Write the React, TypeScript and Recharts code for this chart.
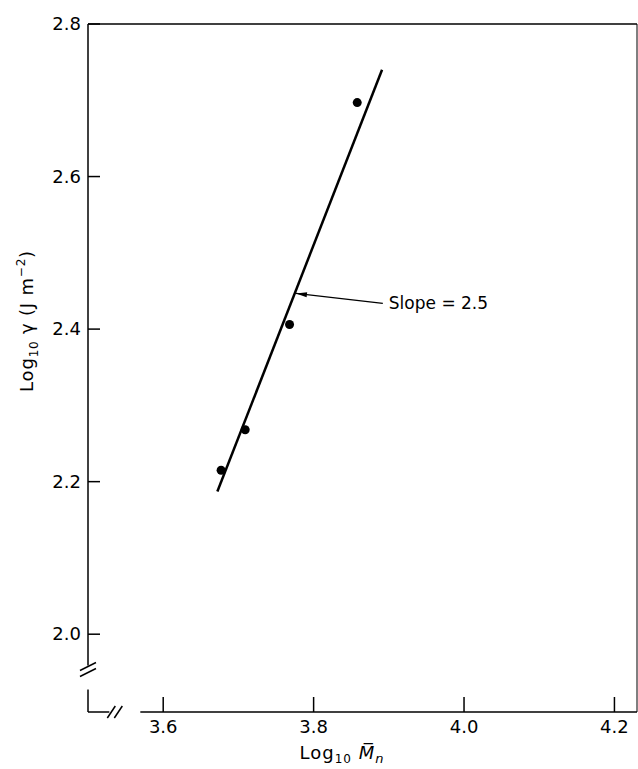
import {
  ComposedChart,
  Scatter,
  XAxis,
  YAxis,
  ReferenceLine,
  ReferenceDot,
} from 'recharts'

// measured points: log10 Mn vs log10 gamma
const logMn = [3.677, 3.709, 3.768, 3.858]
const logGamma = [2.215, 2.268, 2.406, 2.697]

// fitted line end points
const fitMn = [3.672, 3.891]
const fitGamma = [2.187, 2.74]

const xTicks = [3.6, 3.8, 4.0, 4.2]
const yTicks = [2.0, 2.2, 2.4, 2.6, 2.8]

const slopeText = 'Slope = 2.5'
const arrowTail = { x: 3.892, y: 2.4337 }
const arrowTip = { x: 3.7765, y: 2.4468 }

const xBreak = 3.535
const yBreak = 1.955

const xDomain = [3.5, 4.23]
const yDomain = [1.898, 2.8]

const points = logMn.map((x, i) => ({ x, y: logGamma[i] }))
const fitLine = fitMn.map((x, i) => ({ x, y: fitGamma[i] }))

const FONT = '"DejaVu Sans", sans-serif'

function YTick({ x, y, payload }: any) {
  return (
    <g>
      <line x1={x} x2={x + 12} y1={y} y2={y} stroke="#000" strokeWidth={1.5} />
      <text
        x={x - 7}
        y={y}
        dy="0.35em"
        textAnchor="end"
        fontSize={18}
        fontFamily={FONT}
        fill="#000"
      >
        {Number(payload.value).toFixed(1)}
      </text>
    </g>
  )
}

function XTick({ x, y, payload }: any) {
  return (
    <g>
      <line x1={x} x2={x} y1={y} y2={y - 15} stroke="#000" strokeWidth={1.5} />
      <text
        x={x}
        y={y + 21}
        textAnchor="middle"
        fontSize={18}
        fontFamily={FONT}
        fill="#000"
      >
        {Number(payload.value).toFixed(1)}
      </text>
    </g>
  )
}

function XLabel({ viewBox }: any) {
  const cx = viewBox.x + 254
  return (
    <text
      x={cx}
      y={viewBox.y + 47}
      textAnchor="middle"
      fontSize={18}
      fontFamily={FONT}
      fill="#000"
      letterSpacing={1}
    >
      Log
      <tspan fontSize={12} dy={4}>10</tspan>
      <tspan dy={-4}> </tspan>
      <tspan fontStyle="italic">M̅</tspan>
      <tspan fontSize={13} fontStyle="italic" dy={4}>n</tspan>
    </text>
  )
}

function YLabel({ viewBox }: any) {
  const x = viewBox.x - 54
  const y = 321
  return (
    <text
      x={x}
      y={y}
      transform={`rotate(-90 ${x} ${y})`}
      textAnchor="middle"
      fontSize={18}
      fontFamily={FONT}
      fill="#000"
      letterSpacing={0.8}
    >
      Log
      <tspan fontSize={12} dy={5}>10</tspan>
      <tspan dy={-5}> γ (J m</tspan>
      <tspan fontSize={12} dy={-8}>−2</tspan>
      <tspan dy={8}>)</tspan>
    </text>
  )
}

function Arrow(props: any) {
  const { x1, y1, x2, y2 } = props
  const ang = Math.atan2(y2 - y1, x2 - x1)
  const len = 11
  const hw = 2.5
  const bx = x2 - len * Math.cos(ang)
  const by = y2 - len * Math.sin(ang)
  const px = -Math.sin(ang) * hw
  const py = Math.cos(ang) * hw
  return (
    <g>
      <line x1={x1} y1={y1} x2={x2} y2={y2} stroke="#000" strokeWidth={1.3} />
      <polygon
        points={`${x2},${y2} ${bx + px},${by + py} ${bx - px},${by - py}`}
        fill="#000"
      />
    </g>
  )
}

function SlopeLabel({ cx, cy }: any) {
  return (
    <text x={cx} y={cy} dy="0.35em" fontSize={17} fontFamily={FONT} fill="#000">
      {slopeText}
    </text>
  )
}

function YBreakMark({ cx, cy }: any) {
  return (
    <g>
      <rect x={cx - 3} y={cy - 3} width={6} height={24} fill="#fff" />
      <line x1={cx - 8} y1={cy + 2} x2={cx + 8} y2={cy - 6} stroke="#000" strokeWidth={1.5} />
      <line x1={cx - 8} y1={cy + 8} x2={cx + 8} y2={cy} stroke="#000" strokeWidth={1.5} />
    </g>
  )
}

function XBreakMark({ cx, cy }: any) {
  return (
    <g>
      <rect x={cx - 5} y={cy - 3} width={31} height={6} fill="#fff" />
      <line x1={cx - 7} y1={cy + 6} x2={cx + 1} y2={cy - 6} stroke="#000" strokeWidth={1.5} />
      <line x1={cx} y1={cy + 6} x2={cx + 8} y2={cy - 6} stroke="#000" strokeWidth={1.5} />
    </g>
  )
}

export default function App() {
  return (
    <div
      style={{
        position: 'absolute',
        left: 0,
        top: 0,
        width: 638,
        height: 769,
        background: '#fff',
      }}
    >
      <ComposedChart
        width={638}
        height={769}
        margin={{ top: 23, right: 0, bottom: 56, left: 87 }}
      >
        <XAxis
          dataKey="x"
          type="number"
          domain={xDomain}
          ticks={xTicks}
          allowDataOverflow
          height={1}
          tickSize={0}
          tickMargin={0}
          tickLine={false}
          tick={<XTick />}
          axisLine={{ stroke: '#000', strokeWidth: 1.5 }}
          label={<XLabel />}
        />
        <XAxis
          xAxisId="top"
          orientation="top"
          type="number"
          domain={xDomain}
          allowDataOverflow
          height={1}
          tick={false}
          tickLine={false}
          axisLine={{ stroke: '#000', strokeWidth: 1.5 }}
        />
        <YAxis
          dataKey="y"
          type="number"
          domain={yDomain}
          ticks={yTicks}
          allowDataOverflow
          width={1}
          tickSize={0}
          tickMargin={0}
          tickLine={false}
          tick={<YTick />}
          axisLine={{ stroke: '#000', strokeWidth: 1.5 }}
          label={<YLabel />}
        />
        <YAxis
          yAxisId="right"
          orientation="right"
          type="number"
          domain={yDomain}
          allowDataOverflow
          width={1}
          tick={false}
          tickLine={false}
          axisLine={{ stroke: '#000', strokeWidth: 1 }}
        />
        <Scatter
          data={fitLine}
          line={{ stroke: '#000', strokeWidth: 2.5 }}
          shape={() => <g />}
          isAnimationActive={false}
        />
        <Scatter
          data={points}
          fill="#000"
          shape={(p: any) => <circle cx={p.cx} cy={p.cy} r={4.5} fill="#000" />}
          isAnimationActive={false}
        />
        <ReferenceLine
          segment={[arrowTail, arrowTip]}
          shape={<Arrow />}
          ifOverflow="visible"
        />
        <ReferenceDot
          x={3.9}
          y={arrowTail.y}
          r={0}
          shape={<SlopeLabel />}
          ifOverflow="visible"
        />
        <ReferenceDot
          x={xDomain[0]}
          y={yBreak}
          shape={<YBreakMark />}
          ifOverflow="visible"
        />
        <ReferenceDot
          x={xBreak}
          y={yDomain[0]}
          shape={<XBreakMark />}
          ifOverflow="visible"
        />
      </ComposedChart>
    </div>
  )
}
